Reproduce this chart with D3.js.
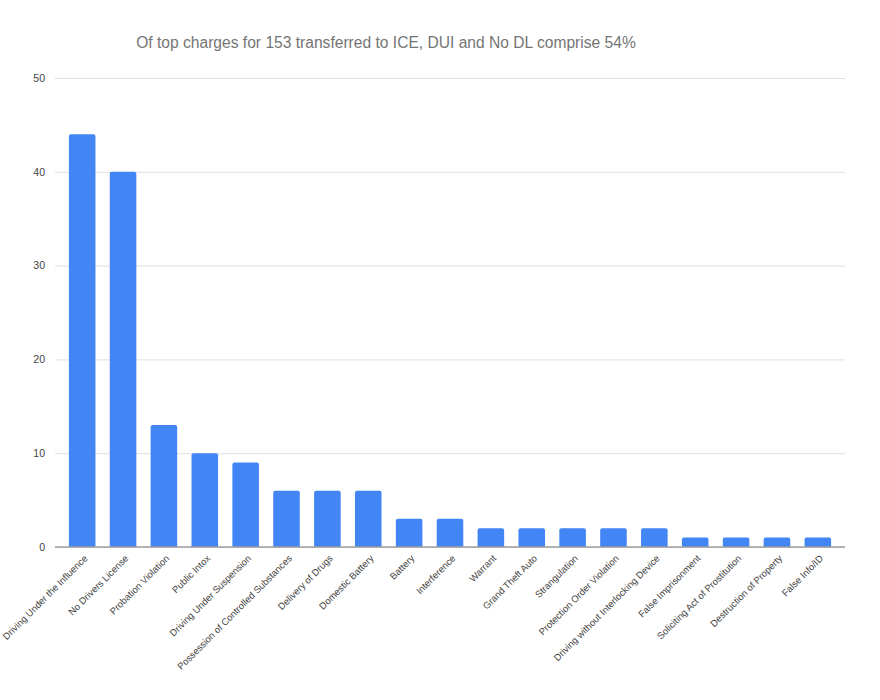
<!DOCTYPE html>
<html>
<head>
<meta charset="utf-8">
<script src="https://cdn.jsdelivr.net/npm/d3@7"></script>
<style>
  body { margin: 0; background: #fff; }
  svg { display: block; font-family: Arial, "Liberation Sans", sans-serif; }
</style>
</head>
<body>
<svg id="chart" width="880" height="700"></svg>
<script>
const titleText = "Of top charges for 153 transferred to ICE, DUI and No DL comprise 54%";
const categories = [
  "Driving Under the Influence", "No Drivers License", "Probation Violation", "Public Intox",
  "Driving Under Suspension", "Possession of Controlled Substances", "Delivery of Drugs",
  "Domestic Battery", "Battery", "Interference", "Warrant", "Grand Theft Auto",
  "Strangulation", "Protection Order Violation", "Driving without Interlocking Device",
  "False Imprisonment", "Soliciting Act of Prostitution", "Destruction of Property", "False Info/ID"
];
const counts = [44, 40, 13, 10, 9, 6, 6, 6, 3, 3, 2, 2, 2, 2, 2, 1, 1, 1, 1];
const yTicks = [0, 10, 20, 30, 40, 50];

const svg = d3.select("#chart");
const plotLeft = 55, plotRight = 845, plotTop = 78, plotBottom = 547;

const x = d3.scaleBand().domain(categories).range([plotLeft, plotRight]).paddingInner(0.35).paddingOuter(0.34);
const y = d3.scaleLinear().domain([0, 50]).range([plotBottom, plotTop]);

svg.append("text")
  .attr("x", 386).attr("y", 48)
  .attr("text-anchor", "middle")
  .attr("font-size", 15.6)
  .attr("fill", "#757575")
  .text(titleText);

// gridlines + y labels
const yAxis = d3.axisLeft(y).tickValues(yTicks).tickSize(-(plotRight - plotLeft)).tickPadding(10);
const gy = svg.append("g").attr("transform", `translate(${plotLeft},0)`).call(yAxis);
gy.select(".domain").remove();
gy.selectAll(".tick line").attr("stroke", "#e0e0e0").attr("stroke-width", 1);
gy.selectAll(".tick text").attr("font-size", 10.5).attr("fill", "#444").attr("font-family", "Arial, 'Liberation Sans', sans-serif");

// bars
svg.append("g").selectAll("path").data(categories).join("path")
  .attr("fill", "#4285F4")
  .attr("d", (c, i) => {
    const x0 = x(c), w = x.bandwidth(), y0 = y(counts[i]), y1 = y(0), r = 2;
    return `M${x0},${y1}V${y0 + r}Q${x0},${y0} ${x0 + r},${y0}H${x0 + w - r}Q${x0 + w},${y0} ${x0 + w},${y0 + r}V${y1}Z`;
  });

// baseline
svg.append("line")
  .attr("x1", plotLeft).attr("x2", plotRight).attr("y1", y(0)).attr("y2", y(0))
  .attr("stroke", "#9e9e9e").attr("stroke-width", 1.5);

// x labels
const xAxis = d3.axisBottom(x).tickSize(0).tickPadding(0);
const gx = svg.append("g").attr("transform", `translate(0,${plotBottom})`).call(xAxis);
gx.select(".domain").remove();
gx.selectAll(".tick text")
  .attr("font-size", 9.5)
  .attr("fill", "#444")
  .attr("font-family", "Arial, 'Liberation Sans', sans-serif")
  .attr("text-anchor", "end")
  .attr("dy", null)
  .attr("y", 0)
  .attr("transform", "translate(6,12) rotate(-45)");
</script>
</body>
</html>
